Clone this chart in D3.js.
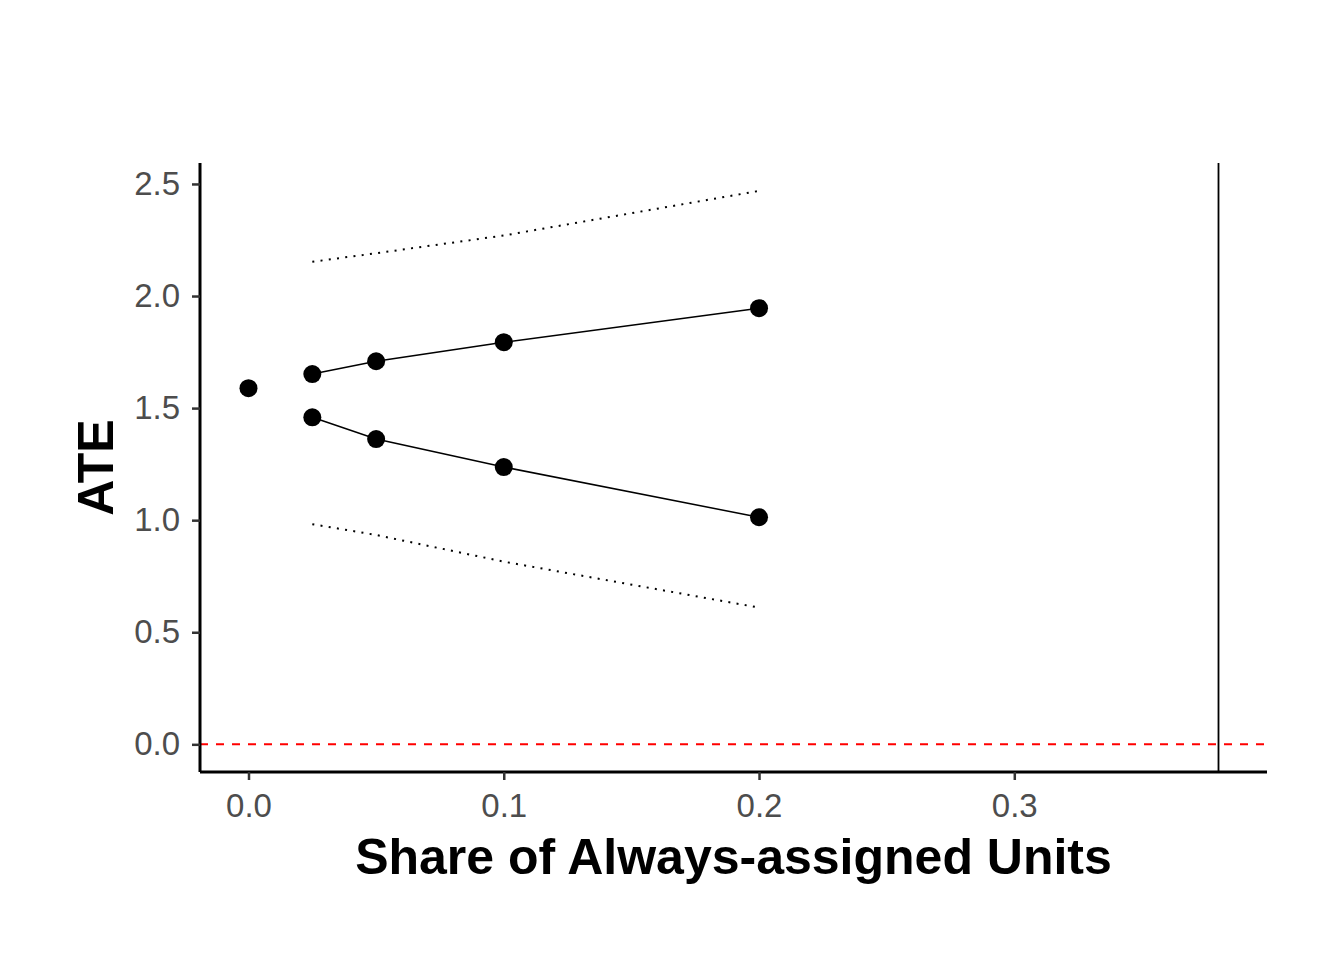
<!DOCTYPE html>
<html>
<head>
<meta charset="utf-8">
<script src="https://cdn.jsdelivr.net/npm/d3@7"></script>
<style>
    body { margin: 0; background: #ffffff; }
    svg { display: block; }
</style>
</head>
<body>
<svg id="chart" width="1344" height="960"></svg>
<script>
// point estimate with no always-assigned units
var baseShare = [0];
var baseATE = [1.589];

// bounds for shares of always-assigned units
var shares = [0.025, 0.05, 0.1, 0.2];
var upperATE = [1.652, 1.709, 1.794, 1.946];
var lowerATE = [1.459, 1.362, 1.237, 1.013];
var upperCI = [2.153, 2.191, 2.270, 2.469];
var lowerCI = [0.982, 0.934, 0.815, 0.610];

var xTicks = [0, 0.1, 0.2, 0.3];
var yTicks = [0, 0.5, 1, 1.5, 2, 2.5];
var cutoff = 0.38;

var svg = d3.select("#chart");

var pLeft = 200, pRight = 1267, pTop = 163, pBottom = 772;

var Xscale = d3.scaleLinear().domain([-0.019, 0.399]).range([pLeft, pRight]);
var Yscale = d3.scaleLinear().domain([-0.1235, 2.5935]).range([pBottom, pTop]);

var font = "'Liberation Sans', Arial, sans-serif";

// reference lines
svg.append("line")
    .attr("x1", pLeft).attr("x2", pRight)
    .attr("y1", Yscale(0)).attr("y2", Yscale(0))
    .attr("stroke", "#ff0000")
    .attr("stroke-width", 2)
    .attr("stroke-dasharray", "8,8");

svg.append("line")
    .attr("x1", Xscale(cutoff)).attr("x2", Xscale(cutoff))
    .attr("y1", pTop).attr("y2", pBottom)
    .attr("stroke", "#000")
    .attr("stroke-width", 1.8);

var line = d3.line()
    .x(function (d) { return Xscale(d[0]); })
    .y(function (d) { return Yscale(d[1]); });

function pairs(ys) {
    return shares.map(function (s, i) { return [s, ys[i]]; });
}

// confidence bounds (dotted)
[upperCI, lowerCI].forEach(function (ys) {
    svg.append("path")
        .attr("d", line(pairs(ys)))
        .attr("fill", "none")
        .attr("stroke", "#000")
        .attr("stroke-width", 2)
        .attr("stroke-dasharray", "2,6.3");
});

// bounds (solid)
[upperATE, lowerATE].forEach(function (ys) {
    svg.append("path")
        .attr("d", line(pairs(ys)))
        .attr("fill", "none")
        .attr("stroke", "#000")
        .attr("stroke-width", 1.5);
});

var pts = pairs(upperATE).concat(pairs(lowerATE))
    .concat(baseShare.map(function (s, i) { return [s, baseATE[i]]; }));

svg.append("g")
    .selectAll("circle")
    .data(pts)
    .enter()
    .append("circle")
    .attr("cx", function (d) { return Xscale(d[0]); })
    .attr("cy", function (d) { return Yscale(d[1]); })
    .attr("r", 9)
    .attr("fill", "#000");

// axes
var xAxis = svg.append("g")
    .attr("transform", "translate(0," + pBottom + ")")
    .call(d3.axisBottom(Xscale).tickValues(xTicks).tickFormat(d3.format(".1f")).tickSizeOuter(0).tickSize(8).tickPadding(14));

var yAxis = svg.append("g")
    .attr("transform", "translate(" + pLeft + ",0)")
    .call(d3.axisLeft(Yscale).tickValues(yTicks).tickFormat(d3.format(".1f")).tickSizeOuter(0).tickSize(8).tickPadding(12));

[xAxis, yAxis].forEach(function (g) {
    g.select(".domain").attr("stroke", "#000").attr("stroke-width", 3);
    g.selectAll(".tick line").attr("stroke", "#333333").attr("stroke-width", 2.5);
    g.selectAll(".tick text")
        .attr("fill", "#4d4d4d")
        .style("font-family", font)
        .style("font-size", "33px");
});
xAxis.select(".domain").attr("d", "M" + pLeft + ",0H" + pRight);
yAxis.select(".domain").attr("d", "M0," + pTop + "V" + pBottom);

// titles
svg.append("text")
    .attr("x", (pLeft + pRight) / 2)
    .attr("y", 874)
    .attr("text-anchor", "middle")
    .style("font-family", font)
    .style("font-weight", "bold")
    .style("font-size", "50px")
    .text("Share of Always-assigned Units");

svg.append("text")
    .attr("transform", "translate(113," + ((pTop + pBottom) / 2) + ") rotate(-90)")
    .attr("text-anchor", "middle")
    .style("font-family", font)
    .style("font-weight", "bold")
    .style("font-size", "50px")
    .text("ATE");
</script>
</body>
</html>
